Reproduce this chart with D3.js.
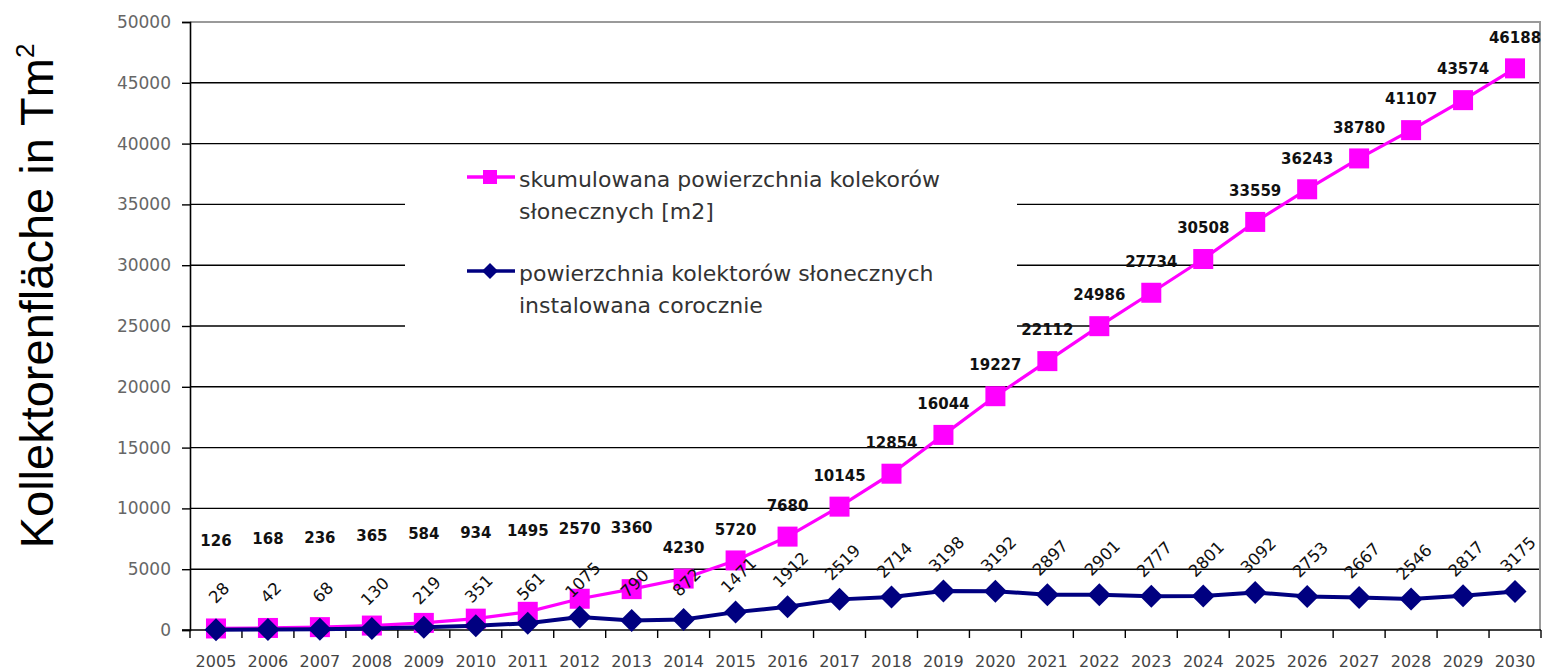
<!DOCTYPE html>
<html>
<head>
<meta charset="utf-8">
<script src="https://cdnjs.cloudflare.com/ajax/libs/d3/7.8.5/d3.min.js"></script>
<style>
  body { margin: 0; background: #fff; }
</style>
</head>
<body>
<div id="chart"></div>
<script>
// data
var years = ["2005","2006","2007","2008","2009","2010","2011","2012","2013","2014","2015","2016","2017",
             "2018","2019","2020","2021","2022","2023","2024","2025","2026","2027","2028","2029","2030"];
var cumulative = [126,168,236,365,584,934,1495,2570,3360,4230,5720,7680,10145,
                  12854,16044,19227,22112,24986,27734,30508,33559,36243,38780,41107,43574,46188];
var annual = [28,42,68,130,219,351,561,1075,790,872,1471,1912,2519,
              2714,3198,3192,2897,2901,2777,2801,3092,2753,2667,2546,2817,3175];
var yTicks = [0,5000,10000,15000,20000,25000,30000,35000,40000,45000,50000];
var legendCumulative = ["skumulowana powierzchnia kolekorów", "słonecznych [m2]"];
var legendAnnual = ["powierzchnia kolektorów słonecznych", "instalowana corocznie"];
var yTitle = "Kollektorenfläche in Tm";

var W = 1545, H = 670;
var margin = {top: 22, right: 4, bottom: 40, left: 190};

var svg = d3.select("#chart")
  .append("svg")
  .attr("width", W)
  .attr("height", H);

var x = d3.scaleBand()
  .domain(years)
  .range([margin.left, W - margin.right]);

var y = d3.scaleLinear()
  .domain([0, 50000])
  .range([H - margin.bottom, margin.top]);

var x0 = margin.left, x1 = W - margin.right;

// gridlines
svg.append("g")
  .selectAll("line")
  .data(yTicks.filter(function(d){ return d > 0 && d < 50000; }))
  .enter().append("line")
    .attr("x1", x0).attr("x2", x1)
    .attr("y1", function(d){ return y(d); })
    .attr("y2", function(d){ return y(d); })
    .attr("stroke", "#000")
    .attr("stroke-width", 1.4);

// plot border top / right (grey)
svg.append("line")
  .attr("x1", x0).attr("x2", x1)
  .attr("y1", y(50000)).attr("y2", y(50000))
  .attr("stroke", "#9a9a9a").attr("stroke-width", 2);
svg.append("line")
  .attr("x1", x1 - 1).attr("x2", x1 - 1)
  .attr("y1", y(50000)).attr("y2", y(0))
  .attr("stroke", "#9a9a9a").attr("stroke-width", 2);

// y axis
var yAxis = svg.append("g")
  .attr("transform", "translate(" + x0 + ",0)")
  .call(d3.axisLeft(y).tickValues(yTicks).tickSize(8).tickPadding(11).tickFormat(d3.format("d")));
yAxis.select(".domain").attr("stroke", "#000").attr("stroke-width", 1.6);
yAxis.selectAll(".tick line").attr("stroke", "#000").attr("stroke-width", 1.4);
yAxis.selectAll("text")
  .attr("font-family", "DejaVu Sans")
  .attr("font-size", 17)
  .attr("fill", "#666");

// x axis, ticks between categories
var xAxisG = svg.append("g")
  .attr("transform", "translate(0," + y(0) + ")");
xAxisG.append("line")
  .attr("x1", x0 - 8).attr("x2", x1)
  .attr("stroke", "#000").attr("stroke-width", 1.6);
xAxisG.selectAll(".xt")
  .data(years.slice(1).concat(["end"]))
  .enter().append("line")
    .attr("class", "xt")
    .attr("x1", function(d, i){ return x0 + x.bandwidth() * (i + 1); })
    .attr("x2", function(d, i){ return x0 + x.bandwidth() * (i + 1); })
    .attr("y1", 0).attr("y2", 8)
    .attr("stroke", "#000").attr("stroke-width", 1.4);
xAxisG.append("line")
  .attr("x1", x0).attr("x2", x0).attr("y1", 0).attr("y2", 8)
  .attr("stroke", "#000").attr("stroke-width", 1.4);
xAxisG.selectAll(".xl")
  .data(years)
  .enter().append("text")
    .attr("class", "xl")
    .attr("x", function(d){ return x(d) + x.bandwidth() / 2; })
    .attr("y", 37)
    .attr("text-anchor", "middle")
    .attr("font-family", "DejaVu Sans")
    .attr("font-size", 16)
    .attr("fill", "#444")
    .text(function(d){ return d; });

// y title
svg.append("text")
  .attr("transform", "translate(53," + 296 + ") rotate(-90)")
  .attr("text-anchor", "middle")
  .attr("font-family", "Liberation Sans, Arial, sans-serif")
  .attr("font-size", 47)
  .attr("fill", "#000")
  .text(yTitle)
  .append("tspan")
    .attr("font-size", 26)
    .attr("dy", -19)
    .text("2");

// legend (white box hides the gridlines behind it)
var lg = svg.append("g");
lg.append("rect")
  .attr("x", 405).attr("y", 150)
  .attr("width", 612).attr("height", 190)
  .attr("fill", "#fff");

function diamond(s) {
  return "M0," + (-s) + "L" + s + ",0L0," + s + "L" + (-s) + ",0Z";
}

lg.append("line")
  .attr("x1", 467).attr("x2", 515).attr("y1", 177).attr("y2", 177)
  .attr("stroke", "#ff00ff").attr("stroke-width", 3.5);
lg.append("rect")
  .attr("x", 483).attr("y", 170).attr("width", 14).attr("height", 14)
  .attr("fill", "#ff00ff");
lg.append("line")
  .attr("x1", 467).attr("x2", 515).attr("y1", 271).attr("y2", 271)
  .attr("stroke", "#000080").attr("stroke-width", 3.5);
lg.append("path")
  .attr("transform", "translate(490,271)")
  .attr("d", diamond(8))
  .attr("fill", "#000080");

lg.selectAll(".l1")
  .data(legendCumulative)
  .enter().append("text")
    .attr("x", 519)
    .attr("y", function(d, i){ return 187 + i * 32; })
    .attr("font-family", "DejaVu Sans")
    .attr("font-size", 22)
    .attr("fill", "#333")
    .text(function(d){ return d; });
lg.selectAll(".l2")
  .data(legendAnnual)
  .enter().append("text")
    .attr("x", 519)
    .attr("y", function(d, i){ return 281 + i * 32; })
    .attr("font-family", "DejaVu Sans")
    .attr("font-size", 22)
    .attr("fill", "#333")
    .text(function(d){ return d; });

// series
var cx = function(d, i){ return x(years[i]) + x.bandwidth() / 2; };

var line = d3.line()
  .x(function(d, i){ return cx(d, i); })
  .y(function(d){ return y(d); });

svg.append("path")
  .datum(cumulative)
  .attr("fill", "none")
  .attr("stroke", "#ff00ff")
  .attr("stroke-width", 3.2)
  .attr("d", line);

svg.append("g")
  .selectAll("rect")
  .data(cumulative)
  .enter().append("rect")
    .attr("x", function(d, i){ return cx(d, i) - 10; })
    .attr("y", function(d){ return y(d) - 10; })
    .attr("width", 20).attr("height", 20)
    .attr("fill", "#ff00ff");

svg.append("path")
  .datum(annual)
  .attr("fill", "none")
  .attr("stroke", "#000080")
  .attr("stroke-width", 4)
  .attr("d", line);

svg.append("g")
  .selectAll("path")
  .data(annual)
  .enter().append("path")
    .attr("transform", function(d, i){ return "translate(" + cx(d, i) + "," + y(d) + ")"; })
    .attr("d", diamond(11.5))
    .attr("fill", "#000080");

// labels of the cumulative series; the small early values sit on a raised row
var liftedUntil = 8;
svg.append("g")
  .selectAll("text")
  .data(cumulative)
  .enter().append("text")
    .attr("x", function(d, i){ return cx(d, i); })
    .attr("y", function(d, i){
      return i <= liftedUntil ? y(7000) - 4 - i * 1.7 : y(d) - 31;
    })
    .attr("dy", "0.35em")
    .attr("text-anchor", "middle")
    .attr("font-family", "DejaVu Sans")
    .attr("font-weight", "bold")
    .attr("font-size", 15)
    .attr("fill", "#111")
    .text(function(d){ return d; });

// labels of the annual series, slanted
svg.append("g")
  .selectAll("text")
  .data(annual)
  .enter().append("text")
    .attr("transform", function(d, i){
      return "translate(" + (cx(d, i) + 3) + "," + (y(d) - 37) + ") rotate(-45)";
    })
    .attr("dy", "0.35em")
    .attr("text-anchor", "middle")
    .attr("font-family", "DejaVu Sans")
    .attr("font-size", 16.5)
    .attr("fill", "#111")
    .text(function(d){ return d; });
</script>
</body>
</html>
